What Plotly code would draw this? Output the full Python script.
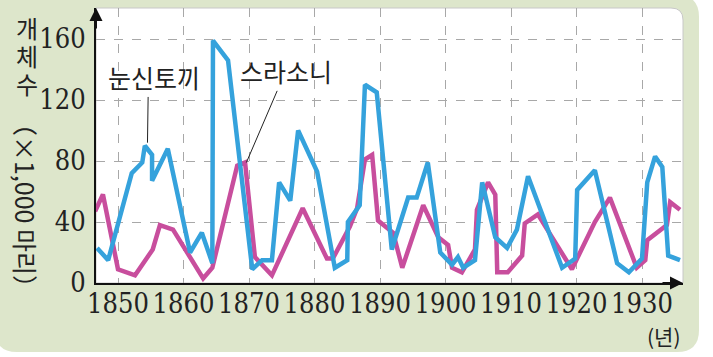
import plotly.graph_objects as go

# ---- data ----
hare_years = [1846.8, 1848.5, 1852.1, 1853.7, 1854.1, 1855.2, 1855.2, 1857.6, 1861.0, 1862.8,
              1864.4, 1864.5, 1866.8, 1870.5, 1872.0, 1873.5, 1874.6, 1876.3, 1877.5, 1880.4,
              1883.1, 1885.0, 1885.1, 1886.9, 1887.7, 1889.5, 1891.8, 1894.3, 1895.6, 1897.3,
              1899.2, 1901.0, 1901.9, 1902.7, 1904.5, 1905.6, 1907.6, 1909.4, 1910.9, 1912.6,
              1917.8, 1919.8, 1920.1, 1922.8, 1926.2, 1928.0, 1930.0, 1930.8, 1932.0, 1933.1,
              1934.0, 1935.8]
hare_values = [23, 15, 72, 79, 90, 84, 67, 88, 20, 33,
               13, 159, 146, 9, 15, 15, 66, 54, 100, 73,
               10, 15, 40, 51, 130, 125, 22, 56, 56, 79,
               20, 12, 17, 10, 15, 66, 30, 23, 35, 70,
               10, 16, 61, 74, 13, 7, 16, 66, 83, 76,
               18, 15]

lynx_years = [1846.5, 1847.7, 1850.0, 1852.6, 1855.3, 1856.4, 1858.4, 1861.0, 1863.0, 1864.4,
              1868.2, 1869.4, 1870.9, 1873.5, 1878.2, 1881.9, 1882.8, 1885.4, 1886.5, 1887.7,
              1888.8, 1889.7, 1892.0, 1893.4, 1896.6, 1898.9, 1900.4, 1901.0, 1902.5, 1904.5,
              1904.8, 1906.5, 1907.6, 1907.9, 1909.5, 1911.7, 1912.1, 1914.1, 1919.3, 1922.8,
              1925.1, 1929.2, 1930.5, 1930.8, 1933.8, 1934.3, 1935.8]
lynx_values = [47, 58, 9, 5, 22, 38, 35, 17, 3, 10,
               77, 79, 17, 5, 49, 16, 16, 37, 49, 81,
               84, 41, 33, 10, 51, 30, 25, 10, 7, 22,
               48, 66, 58, 7, 7, 18, 39, 45, 9, 40,
               56, 10, 15, 28, 38, 53, 48]

x_ticks = [1850, 1860, 1870, 1880, 1890, 1900, 1910, 1920, 1930]
y_ticks = [0, 40, 80, 120, 160]

hare_name = "눈신토끼"
lynx_name = "스라소니"

# ---- layout geometry (pixels) ----
W, H = 713, 357
L, R, T, B = 96, 683, 8, 283
PW, PH = R - L, B - T

def px(x):
    return (x - L) / PW

def py(y):
    return (B - y) / PH

BLUE = "#35a2dc"
MAGENTA = "#c84e9d"
GREEN = "#dde6cb"
KFONT = "Noto Sans CJK KR"
SERIF = "DejaVu Serif Condensed, DejaVu Serif"

fig = go.Figure()
fig.add_trace(go.Scatter(x=lynx_years, y=lynx_values, mode="lines", name=lynx_name,
                         line=dict(color=MAGENTA, width=4.5), hoverinfo="skip"))
fig.add_trace(go.Scatter(x=hare_years, y=hare_values, mode="lines", name=hare_name,
                         line=dict(color=BLUE, width=4.5), hoverinfo="skip"))

def rounded_path(x0, y0, x1, y1, r, corners=(True, True, True, True)):
    rx, ry = r / PW, r / PH
    X0, X1 = px(x0), px(x1)
    Ytop, Ybot = py(y0), py(y1)
    tl, tr, br, bl = corners
    p = []
    p.append(f"M {X0 + (rx if tl else 0)},{Ytop}")
    if tr:
        p.append(f"L {X1 - rx},{Ytop} Q {X1},{Ytop} {X1},{Ytop - ry}")
    else:
        p.append(f"L {X1},{Ytop}")
    if br:
        p.append(f"L {X1},{Ybot + ry} Q {X1},{Ybot} {X1 - rx},{Ybot}")
    else:
        p.append(f"L {X1},{Ybot}")
    if bl:
        p.append(f"L {X0 + rx},{Ybot} Q {X0},{Ybot} {X0},{Ybot + ry}")
    else:
        p.append(f"L {X0},{Ybot}")
    if tl:
        p.append(f"L {X0},{Ytop - ry} Q {X0},{Ytop} {X0 + rx},{Ytop}")
    else:
        p.append(f"L {X0},{Ytop}")
    p.append("Z")
    return " ".join(p)

shapes = [
    dict(type="path", xref="paper", yref="paper", layer="below",
         path=rounded_path(-5, -5, 699, 352, 22, corners=(False, True, True, True)),
         fillcolor=GREEN, line=dict(width=0)),
    dict(type="path", xref="paper", yref="paper", layer="below",
         path=rounded_path(L, T, R, B, 12, corners=(False, True, False, False)),
         fillcolor="white", line=dict(color="#c8c8c8", width=1)),
    # leader lines
    dict(type="line", xref="x", yref="y", x0=1854.6, y0=122, x1=1854.5, y1=92,
         line=dict(color="#222", width=1)),
    dict(type="line", xref="x", yref="y", x0=1874.3, y0=126, x1=1869.6, y1=79,
         line=dict(color="#222", width=1)),
]

annotations = [
    dict(text=hare_name, x=px(154), y=py(77), xref="paper", yref="paper", showarrow=False,
         font=dict(family=KFONT, size=25, color="#222"), xanchor="center", yanchor="middle"),
    dict(text=lynx_name, x=px(286), y=py(71), xref="paper", yref="paper", showarrow=False,
         font=dict(family=KFONT, size=25, color="#222"), xanchor="center", yanchor="middle"),
    dict(text="(년)", x=px(664), y=py(336), xref="paper", yref="paper", showarrow=False,
         font=dict(family=KFONT, size=21, color="#222"), xanchor="center", yanchor="middle"),
    dict(text="（×1,000 마리）", x=px(26), y=py(205), xref="paper", yref="paper",
         showarrow=False, textangle=90,
         font=dict(family=KFONT, size=25, color="#222"), xanchor="center", yanchor="middle"),
    # axis arrows
    dict(x=0, y=1.0, xref="paper", yref="paper", ax=0, ay=22, axref="pixel", ayref="pixel",
         showarrow=True, arrowhead=2, arrowsize=1.3, arrowwidth=2, arrowcolor="#111", text=""),
    dict(x=1.0, y=0, xref="paper", yref="paper", ax=-22, ay=0, axref="pixel", ayref="pixel",
         showarrow=True, arrowhead=2, arrowsize=1.3, arrowwidth=2, arrowcolor="#111", text=""),
]
for ch, yc in zip(["개", "체", "수"], [27, 55, 83]):
    annotations.append(dict(text=ch, x=px(27), y=py(yc), xref="paper", yref="paper",
                            showarrow=False, font=dict(family=KFONT, size=24, color="#222"),
                            xanchor="center", yanchor="middle"))

fig.update_layout(
    width=W, height=H, autosize=False,
    margin=dict(l=L, r=W - R, t=T, b=H - B, pad=0),
    paper_bgcolor="white", plot_bgcolor="rgba(0,0,0,0)",
    showlegend=False,
    shapes=shapes, annotations=annotations,
    xaxis=dict(range=[1850 - (118 - L) / 6.55, 1850 + (R - 118) / 6.55],
               tickvals=x_ticks, ticktext=[str(v) for v in x_ticks], tickangle=0,
               showgrid=True, gridcolor="#a8a8a8", griddash="dash", gridwidth=1,
               showline=True, linecolor="#111", linewidth=2, zeroline=False,
               ticks="", ticklabelstandoff=-4,
               tickfont=dict(family=SERIF, size=27, color="#222"), fixedrange=True),
    yaxis=dict(range=[0, PH / 1.525],
               tickvals=y_ticks, ticktext=[str(v) for v in y_ticks],
               showgrid=True, gridcolor="#a8a8a8", griddash="dash", gridwidth=1,
               showline=True, linecolor="#111", linewidth=2, zeroline=False,
               ticks="", ticklabelstandoff=3,
               tickfont=dict(family=SERIF, size=27, color="#222"), fixedrange=True),
)

fig.write_html("out.html", config={"displayModeBar": False},
               post_script="document.body.style.margin='0px';")
